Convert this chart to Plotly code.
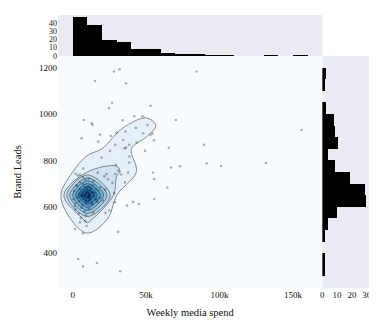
import plotly.graph_objects as go
from plotly.colors import sequential

# Weekly media spend (k$) and Brand Leads
spend_k = [
    28.1, 32.0, 84.4, 15.2, 36.3, 26.9, 24.7, 53.0, 7.5, 12.9,
    13.6, 34.0, 41.9, 47.6, 70.3, 51.0, 155.8, 18.6, 26.0, 29.9,
    36.0, 48.0, 54.4, 43.0, 53.0, 6.1, 17.4, 29.0, 38.5, 43.5,
    55.3, 89.5, 65.5, 34.4, 35.4, 36.3, 49.2, 25.4, 19.7, 38.5,
    38.5, 29.5, 73.0, 67.0, 91.2, 101.0, 131.5, 31.0, 7.2, 54.7,
    55.5, 37.8, 35.6, 5.0, 23.0, 29.0, 64.4, 28.3, 41.2, 55.5,
    28.8, 22.4, 8.4, 1.6, 31.0, 3.8, 16.5, 7.0, 32.4,
    # dense core
    2, 5, 7, 8.5, 3.5, 11, 14, 17, 21.5, 24, 27, 33,
    1, 2.5, 4, 5, 6, 7, 7.5, 8, 8.5, 9, 9.5, 3, 6.5, 10.2, 10.8, 11.5, 12, 12.5,
    13, 14, 15, 16, 17.5, 19, 11, 13.8, 22,
    0.5, 2, 3.5, 4.5, 5.5, 6.5, 7, 8, 8.8, 9.2, 10.7, 1.5, 6, 10.5, 11, 12, 13.5,
    14.5, 15.5, 17, 18.5, 11.8, 13, 16.2, 20.5, 37, 45,
    2, 4, 6, 8, 9, 5.5, 11, 14, 25,
    5, 9.5,
    7,
]
leads = [
    1183, 1193, 1183, 1142, 1132, 1048, 1025, 1035, 974, 960,
    953, 973, 990, 990, 974, 952, 931, 911, 905, 920,
    924, 917, 916, 940, 910, 895, 881, 867, 867, 877,
    887, 867, 854, 888, 852, 855, 841, 841, 812, 817,
    791, 781, 775, 769, 787, 776, 789, 755, 765, 748,
    719, 748, 705, 738, 741, 741, 683, 659, 621, 633,
    619, 574, 539, 504, 492, 375, 358, 343, 322,
    742, 705, 728, 716, 735, 722, 710, 746, 731, 718, 703, 739,
    668, 690, 655, 676, 662, 698, 671, 653, 685, 660, 679, 694, 651, 666, 688, 657, 673, 681,
    664, 692, 659, 677, 670, 684, 652, 661, 675,
    632, 615, 641, 624, 648, 607, 636, 644, 628, 619, 639, 603, 646, 642, 626, 634, 611,
    647, 630, 621, 638, 645, 617, 633, 627, 605, 612,
    588, 571, 596, 580, 563, 552, 592, 575, 584,
    533, 517,
    486,
]
spend = [int(round(v * 1000)) for v in spend_k]

x_title = "Weekly media spend"
y_title = "Brand Leads"

FONT = "Liberation Serif"
BG = "rgb(234,234,242)"

blues = sequential.Blues[:8]
scale = [[i / (len(blues) - 1), c] for i, c in enumerate(blues)]

fig = go.Figure()
fig.add_trace(go.Histogram2dContour(
    x=spend, y=leads, xaxis="x", yaxis="y",
    colorscale=scale, showscale=False,
    xbins=dict(start=-20000, end=180000, size=20000),
    ybins=dict(start=200, end=1300, size=100),
    line=dict(width=0.5, color="#222"),
    hoverinfo="skip",
))
fig.add_trace(go.Scatter(
    x=spend, y=leads, xaxis="x", yaxis="y", mode="markers",
    marker=dict(color="rgba(0,0,0,0.3)", size=2.6),
))
fig.add_trace(go.Histogram(
    y=leads, xaxis="x2", yaxis="y",
    ybins=dict(start=300, end=1200, size=50),
    marker=dict(color="black", line=dict(width=0)),
))
fig.add_trace(go.Histogram(
    x=spend, xaxis="x", yaxis="y2",
    xbins=dict(start=0, end=160000, size=10000),
    marker=dict(color="black", line=dict(width=0)),
))

tick_font = dict(family=FONT, size=9, color="#111")
small_tick_font = dict(family=FONT, size=8, color="#111")
fig.update_layout(
    width=369, height=321,
    margin=dict(l=50, r=8, t=7, b=41, autoexpand=False),
    paper_bgcolor="white", plot_bgcolor=BG,
    font=dict(family=FONT, color="#111"),
    showlegend=False, bargap=0, hovermode="closest",
    xaxis=dict(domain=[0, 0.85], range=[-10000, 170000], dtick=50000,
               showgrid=False, zeroline=False, showline=False, ticks="",
               tickfont=tick_font, automargin=False,
               title=dict(text=x_title, font=dict(family=FONT, size=10.5),
                          standoff=9)),
    yaxis=dict(domain=[0, 0.85], range=[250, 1250], dtick=200,
               showgrid=False, zeroline=False, showline=False, ticks="",
               tickfont=tick_font, automargin=False,
               title=dict(text=y_title, font=dict(family=FONT, size=10.5))),
    xaxis2=dict(domain=[0.85, 1], anchor="y", range=[0, 31.6], dtick=10,
                showgrid=False, zeroline=False, ticks="", tickfont=tick_font,
                automargin=False),
    yaxis2=dict(domain=[0.85, 1], anchor="x", range=[0, 49.4], dtick=10,
                showgrid=False, zeroline=False, ticks="", tickfont=small_tick_font,
                automargin=False),
)

fig.write_html("out.html")
